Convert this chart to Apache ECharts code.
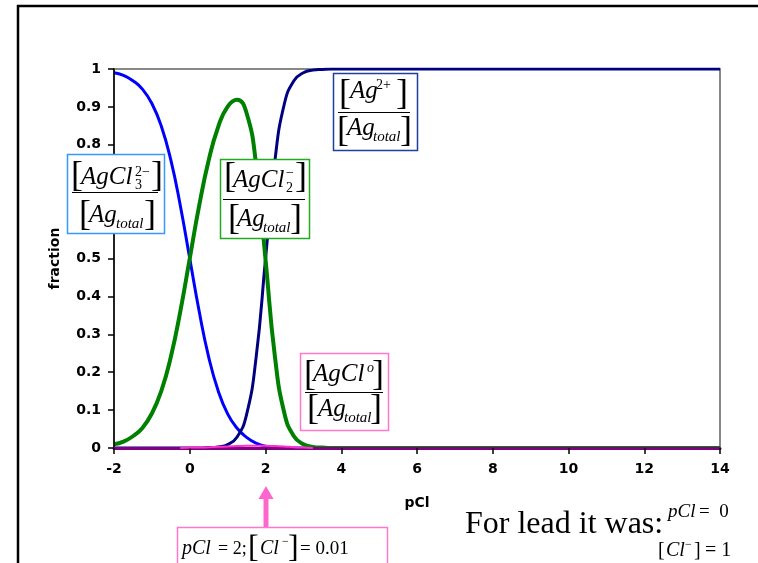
<!DOCTYPE html>
<html><head><meta charset="utf-8">
<script src="https://cdn.jsdelivr.net/npm/echarts@6/dist/echarts.min.js"></script>
<style>html,body{margin:0;padding:0;background:#fff}#c{width:758px;height:563px}</style>
</head><body><div id="c"></div>
<script>
// pCl sample positions
const pCl = [-2,-1.75,-1.5,-1.25,-1,-0.75,-0.5,-0.25,0,0.25,0.5,0.75,1,1.25,1.5,1.75,2,2.25,2.5,2.75,3,3.25,3.5,3.75,4,5,6,7,8,9,10,11,12,13,14];
// fraction AgCl3^2-
const fAgCl3 = [0.990,0.983,0.969,0.947,0.909,0.849,0.760,0.640,0.500,0.360,0.240,0.151,0.090,0.052,0.028,0.013,0.005,0.001,0,0,0,0,0,0,0,0,0,0,0,0,0,0,0,0,0];
// fraction AgCl2^-
const fAgCl2 = [0.010,0.017,0.031,0.053,0.091,0.151,0.240,0.360,0.500,0.640,0.759,0.847,0.901,0.919,0.884,0.750,0.498,0.240,0.091,0.031,0.010,0.003,0.001,0,0,0,0,0,0,0,0,0,0,0,0];
// fraction Ag+
const fAg = [0,0,0,0,0,0,0,0,0,0,0.001,0.003,0.009,0.029,0.088,0.237,0.498,0.759,0.909,0.969,0.990,0.997,0.999,1,1,1,1,1,1,1,1,1,1,1,1];
// fraction AgCl(aq) (only drawn where it rises off zero)
const fAgCl = [null,null,null,null,null,null,null,0,0.001,0.001,0.002,0.003,0.004,0.005,0.006,0.006,0.006,0.005,0.004,0.002,0.001,0,null,null,null,null,null,null,null,null,null,null,null,null,null];
const xTicks = {min:-2, max:14, step:2};
const yTicks = {min:0, max:1, step:0.1};

const pairs = ys => pCl.map((x,i)=>[x, ys[i]]);

const SERIF = '"Liberation Serif", "Times New Roman", serif';
function T(x, base, text, size, italic, fill) {
  return {type:'text', z:100, style:{x:x, y:base - 0.33*size, text:text,
    font:(italic?'italic ':'')+size+'px '+SERIF, fill:fill||'#000', verticalAlign:'middle', align:'left'}};
}
function BR(x, cy, ch, size) {
  return {type:'text', z:100, style:{x:x, y:cy, text:ch, font:size+'px '+SERIF, fill:'#000', verticalAlign:'middle', align:'left'}};
}
function L(x1,y1,x2,y2,color,w){
  return {type:'line', z:100, shape:{x1,y1,x2,y2}, style:{stroke:color||'#000', lineWidth:w||1}};
}
function R(x,y,w,h,color){
  return {type:'rect', z:99, shape:{x,y,width:w,height:h}, style:{fill:'#fff', stroke:color, lineWidth:1.5}};
}

const graphics = [
  L(17,6,758,6,'#000',2.5),
  L(18,5,18,563,'#000',2.5),
  // AgCl3^2- box
  R(67.5,154.5,97,79,'#3399FF'),
  BR(71,177,'[',36), T(81,186,'AgCl',25,true), T(135,177,'2−',14), T(135,190,'3',14), BR(151,177,']',36),
  L(72,192.5,158,192.5),
  BR(79,215.5,'[',36), T(89,224,'Ag',25,true), T(116,229,'total',15,true), BR(144,215.5,']',36),
  // AgCl2^- box
  R(220.5,159.5,89,79,'#22AA22'),
  BR(224,178,'[',36), T(233,189,'AgCl',25,true), T(286,178,'−',14), T(286,193,'2',14), BR(295,178,']',36),
  L(223,199.5,305,199.5),
  BR(228,220,'[',36), T(237,228,'Ag',25,true), T(263,233,'total',15,true), BR(290,220,']',36),
  // Ag2+ box
  R(333.5,73.5,84,77,'#1F3F9F'),
  BR(339,95,'[',36), T(350,100,'Ag',25,true), T(376,90,'2+',14), BR(396,95,']',36),
  L(338,112.5,410,112.5),
  BR(337,132,'[',36), T(347,137,'Ag',25,true), T(373,142,'total',15,true), BR(400,132,']',36),
  // AgCl0 box
  R(300.5,353.5,88,77,'#FF77CC'),
  BR(304,376,'[',36), T(313,383,'AgCl',25,true), T(367,373,'o',14,true), BR(372,376,']',36),
  L(305,392.5,383,392.5),
  BR(307,410,'[',36), T(318,418,'Ag',25,true), T(344,423,'total',15,true), BR(370,410,']',36),
  // arrow
  {type:'polygon', z:100, shape:{points:[[266,486],[258.5,499],[273.5,499]]}, style:{fill:'#FF66CC'}},
  {type:'rect', z:100, shape:{x:263.5,y:498,width:5,height:29}, style:{fill:'#FF66CC'}},
  // pCl = 2 box
  R(177.5,527.5,210,40,'#FF77CC'),
  T(182,555,'pCl',20,true), T(218,555,'= 2;',18), BR(248,549,'[',32), T(260,555,'Cl',20,true), T(282,546,'−',12), BR(288,549,']',32), T(300,555,'= 0.01',19),
  // For lead
  T(465,535,'For lead it was:',32),
  T(668,518,'pCl',19,true), T(699,518,'=  0',19),
  T(658,557,'[',20), T(666,557,'Cl',20,true), T(685,549,'−',12), T(694,557,']',20), T(705,557,'= 1',20)
];

const axisFont = {fontFamily:'"DejaVu Sans", Arial, sans-serif', fontWeight:'bold', fontSize:14, color:'#000'};

const chart = echarts.init(document.getElementById('c'), null, {renderer:'canvas'});
chart.setOption({
  animation:false,
  backgroundColor:'#fff',
  grid:{left:114, right:38, top:69, bottom:115, show:true, borderColor:'#888', borderWidth:2, backgroundColor:'transparent'},
  xAxis:{type:'value', min:xTicks.min, max:xTicks.max, interval:xTicks.step, z:10,
    name:'pCl', nameLocation:'middle', nameGap:48, nameTextStyle:Object.assign({}, axisFont, {fontSize:14}),
    axisLine:{show:true, onZero:false, lineStyle:{color:'#800080', width:3}},
    axisTick:{show:true, length:6, lineStyle:{color:'#000', width:1.5}},
    axisLabel:Object.assign({margin:14}, axisFont),
    splitLine:{show:false}},
  yAxis:{type:'value', min:yTicks.min, max:yTicks.max, interval:yTicks.step, z:10,
    name:'fraction', nameLocation:'middle', nameGap:52, nameTextStyle:Object.assign({}, axisFont, {fontSize:14}),
    axisLine:{show:true, onZero:false, lineStyle:{color:'#000', width:1.5}},
    axisTick:{show:true, length:6, lineStyle:{color:'#000', width:1.5}},
    axisLabel:Object.assign({margin:13}, axisFont),
    splitLine:{show:false}},
  series:[
    {type:'line', name:'AgCl3', data:pairs(fAgCl3), showSymbol:false, smooth:0.5, lineStyle:{color:'#0000FF', width:3}, z:3},
    {type:'line', name:'Ag', data:pairs(fAg), showSymbol:false, smooth:0.5, lineStyle:{color:'#000080', width:3}, z:4},
    {type:'line', name:'AgCl2', data:pairs(fAgCl2), showSymbol:false, smooth:0.5, lineStyle:{color:'#008000', width:4}, z:5},
    {type:'line', name:'AgCl', data:pairs(fAgCl), showSymbol:false, smooth:0.5, connectNulls:false, lineStyle:{color:'#FF33CC', width:2}, z:12}
  ],
  graphic:graphics
});
</script></body></html>
